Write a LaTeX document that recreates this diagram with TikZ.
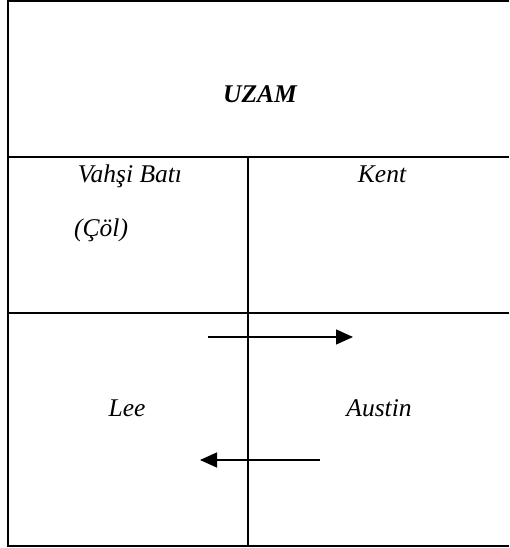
\documentclass[tikz,border=0pt]{standalone}
\usepackage{fontspec}
\setmainfont{Liberation Serif}
\usetikzlibrary{arrows.meta}

\begin{document}
\begin{tikzpicture}[x=1pt, y=1pt,
		rule/.style={line width=2pt},
		label/.style={anchor=base, font=\fontsize{25.5}{30}\selectfont\itshape},
		move/.style={line width=1.3pt, -{Triangle[length=17pt, width=15pt]}}]
		\useasboundingbox (0,0) rectangle (509,548);
		% table frame
		\draw[rule] (509,547) -- (7.5,547) -- (7.5,1.5) -- (509,1.5);
		\draw[rule] (7.5,391) -- (509,391);
		\draw[rule] (7.5,235) -- (509,235);
		\draw[rule] (248,391) -- (248,1.5);
		% texts
		\node (uzam) [label, font=\fontsize{25.5}{30}\selectfont\bfseries\itshape] at (260,445) {UZAM};
		\node (bati) [label] at (130,365) {Vahşi Batı};
		\node (kent) [label] at (382,365) {Kent};
		\node (col) [label, anchor=base west, inner sep=0pt] at (74,311) {(Çöl)};
		\node (lee) [label] at (127,131) {Lee};
		\node (austin) [label] at (379,131) {Austin};
		% arrows
		\coordinate (a1) at (208,211);
		\coordinate (b1) at (353,211);
		\coordinate (a2) at (320,88);
		\coordinate (b2) at (200,88);
		\path
		(a1) edge [move] (b1)
		(a2) edge [move] (b2);
	\end{tikzpicture}
\end{document}
